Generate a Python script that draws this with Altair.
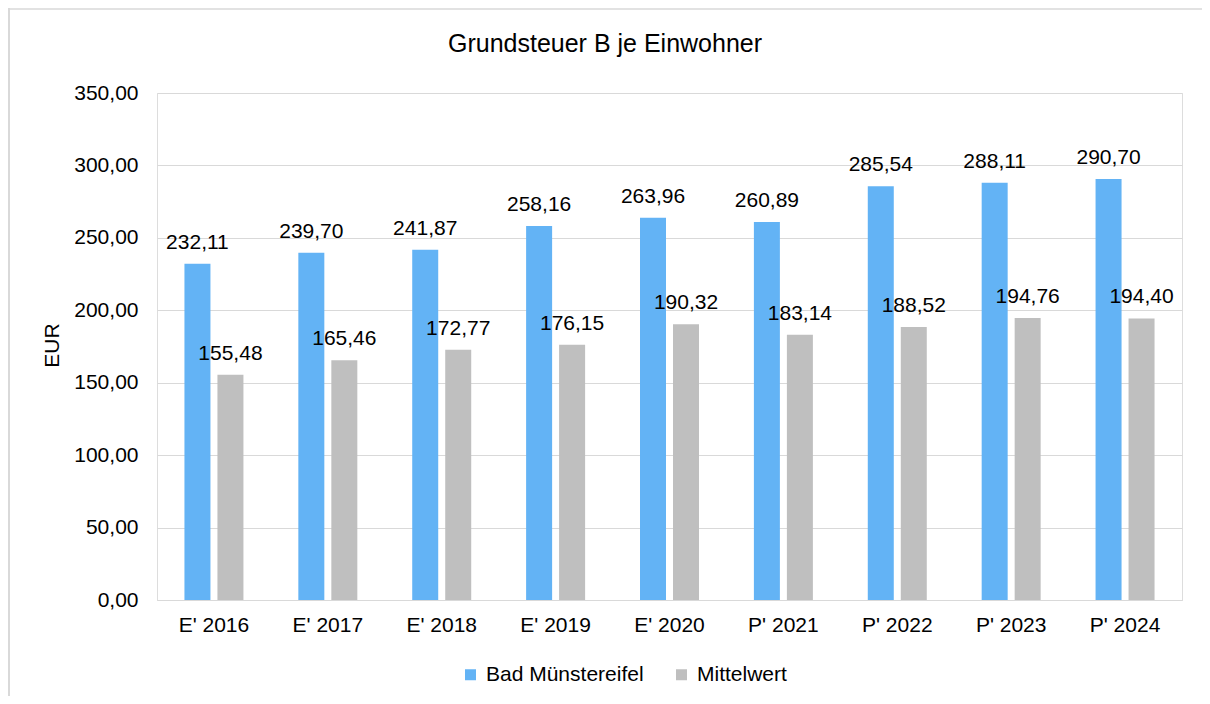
import altair as alt
import pandas as pd

categories = ["E' 2016", "E' 2017", "E' 2018", "E' 2019", "E' 2020",
              "P' 2021", "P' 2022", "P' 2023", "P' 2024"]
bad_muenstereifel = [232.11, 239.70, 241.87, 258.16, 263.96, 260.89, 285.54, 288.11, 290.70]
mittelwert = [155.48, 165.46, 172.77, 176.15, 190.32, 183.14, 188.52, 194.76, 194.40]
series_names = ["Bad Münstereifel", "Mittelwert"]
series_colors = ["#63B3F5", "#BFBFBF"]
chart_title = "Grundsteuer B je Einwohner"

rows = []
for i, c in enumerate(categories):
    rows.append({"cat": c, "series": series_names[0], "value": bad_muenstereifel[i]})
    rows.append({"cat": c, "series": series_names[1], "value": mittelwert[i]})
df = pd.DataFrame(rows)

FONT = "Liberation Sans"
W, H = 1025, 507
PAD_L, PAD_T = 149, 85

x_enc = alt.X("cat:N", sort=categories,
              scale=alt.Scale(paddingInner=0.482, paddingOuter=0.241),
              axis=alt.Axis(title=None, labelAngle=0, labelFontSize=21, labelFont=FONT,
                            labelColor="#000000", labelPadding=14, ticks=False,
                            domainColor="#D9D9D9", domainWidth=1))
xoff = alt.XOffset("series:N", sort=series_names,
                   scale=alt.Scale(paddingInner=0.212, paddingOuter=0))
y_enc = alt.Y("value:Q", scale=alt.Scale(domain=[0, 350], nice=False),
              axis=alt.Axis(title="EUR", values=[0, 50, 100, 150, 200, 250, 300, 350],
                            labelExpr="replace(format(datum.value, '.2f'), '.', ',')",
                            labelFontSize=21, labelFont=FONT, labelColor="#000000",
                            labelPadding=19, ticks=False, domain=False,
                            gridColor="#D9D9D9", gridWidth=1,
                            titleFontSize=21, titleFont=FONT, titleFontWeight="normal",
                            titleColor="#000000", titleX=-105, titleY=252,
                            titleAngle=270, titleAlign="center", titleBaseline="middle"))

base = alt.Chart(df)

bars = base.mark_bar().encode(
    x=x_enc, xOffset=xoff, y=y_enc,
    color=alt.Color("series:N", sort=series_names,
                    scale=alt.Scale(domain=series_names, range=series_colors),
                    legend=alt.Legend(title=None, orient="none", direction="horizontal",
                                      legendX=303, legendY=571, padding=0,
                                      symbolType="square", symbolSize=121,
                                      symbolStrokeWidth=0, labelFontSize=21,
                                      labelFont=FONT, labelColor="#000000",
                                      labelOffset=5, columnPadding=27)),
)

labels = base.mark_text(fontSize=21, font=FONT, color="#000000",
                        baseline="alphabetic", dy=-15).transform_calculate(
    label="replace(format(datum.value, '.2f'), '.', ',')"
).encode(
    x=alt.X("cat:N", sort=categories), xOffset=alt.XOffset("series:N", sort=series_names),
    y="value:Q", text="label:N",
)

one = pd.DataFrame({"t": [chart_title]})

border_top = alt.Chart(one).mark_rule(color="#D9D9D9", strokeWidth=1.5).encode(
    x=alt.value(-PAD_L), x2=alt.value(W + 300), y=alt.value(-PAD_T + 1),
)
border_left = alt.Chart(one).mark_rule(color="#D9D9D9", strokeWidth=2).encode(
    x=alt.value(-PAD_L + 1), y=alt.value(-PAD_T), y2=alt.value(H + 300),
)

title = alt.Chart(one).mark_text(
    fontSize=25, font=FONT, color="#000000", align="center", baseline="alphabetic"
).encode(
    text="t:N", x=alt.value(448), y=alt.value(-41),
)

chart = alt.layer(border_top, border_left, bars, labels, title).properties(
    width=W, height=H,
    padding={"left": PAD_L, "top": PAD_T, "right": 20, "bottom": 96},
    autosize=alt.AutoSizeParams(type="none"),
).configure_view(stroke=None).configure(background="white")

chart.save("out.html", embed_options={"renderer": "svg", "actions": False})
